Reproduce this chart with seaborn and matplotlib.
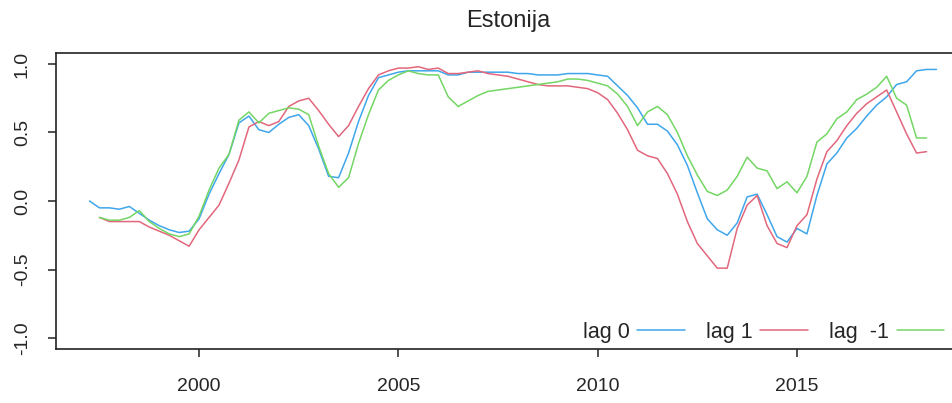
import numpy as np
import pandas as pd
import matplotlib
matplotlib.use("Agg")
import matplotlib.pyplot as plt
import seaborn as sns

# ---- data (quarterly) ----
lag0 = [0.00, -0.05, -0.05, -0.06, -0.04, -0.09, -0.14, -0.18, -0.21, -0.23, -0.22, -0.13,
        0.05, 0.20, 0.34, 0.57, 0.62, 0.52, 0.50, 0.56, 0.61, 0.63, 0.55, 0.38,
        0.18, 0.17, 0.35, 0.58, 0.77, 0.90, 0.92, 0.94, 0.95, 0.95, 0.95, 0.95,
        0.92, 0.92, 0.94, 0.94, 0.94, 0.94, 0.94, 0.93, 0.93, 0.92, 0.92, 0.92,
        0.93, 0.93, 0.93, 0.92, 0.91, 0.84, 0.77, 0.68, 0.56, 0.56, 0.51, 0.41,
        0.26, 0.06, -0.13, -0.21, -0.25, -0.16, 0.03, 0.05, -0.10, -0.26, -0.30, -0.20,
        -0.24, 0.04, 0.27, 0.35, 0.46, 0.53, 0.62, 0.70, 0.76, 0.85, 0.87, 0.95,
        0.96, 0.96]
lag1 = [-0.12, -0.15, -0.15, -0.15, -0.15, -0.19, -0.22, -0.25, -0.29, -0.33, -0.21,
        -0.12, -0.03, 0.13, 0.30, 0.54, 0.58, 0.55, 0.58, 0.69, 0.73, 0.75, 0.66,
        0.56, 0.47, 0.55, 0.69, 0.82, 0.92, 0.95, 0.97, 0.97, 0.98, 0.96, 0.97,
        0.93, 0.93, 0.94, 0.95, 0.93, 0.92, 0.91, 0.89, 0.87, 0.85, 0.84, 0.84,
        0.84, 0.83, 0.82, 0.79, 0.74, 0.64, 0.52, 0.37, 0.33, 0.31, 0.20, 0.05,
        -0.15, -0.31, -0.40, -0.49, -0.49, -0.20, -0.03, 0.04, -0.18, -0.31, -0.34, -0.18,
        -0.10, 0.16, 0.36, 0.44, 0.55, 0.64, 0.71, 0.76, 0.81, 0.65, 0.49, 0.35,
        0.36]
lagm1 = [-0.12, -0.14, -0.14, -0.12, -0.07, -0.15, -0.20, -0.24, -0.26, -0.24, -0.11,
         0.08, 0.24, 0.34, 0.59, 0.65, 0.57, 0.64, 0.66, 0.68, 0.67, 0.63, 0.40,
         0.20, 0.10, 0.17, 0.42, 0.63, 0.81, 0.88, 0.92, 0.95, 0.93, 0.92, 0.92,
         0.76, 0.69, 0.73, 0.77, 0.80, 0.81, 0.82, 0.83, 0.84, 0.85, 0.86, 0.87,
         0.89, 0.89, 0.88, 0.86, 0.84, 0.78, 0.69, 0.55, 0.65, 0.69, 0.63, 0.50,
         0.33, 0.19, 0.07, 0.04, 0.08, 0.18, 0.32, 0.24, 0.22, 0.09, 0.14, 0.06,
         0.18, 0.43, 0.49, 0.60, 0.65, 0.74, 0.78, 0.83, 0.91, 0.75, 0.70, 0.46,
         0.46]
labels = ["lag 0", "lag 1", "lag  -1"]
colors = ["#3FA6EC", "#E2677C", "#74D664"]
title = "Estonija"
xticks = [2000, 2005, 2010, 2015]
yticks = [-1.0, -0.5, 0.0, 0.5, 1.0]

t0 = 1997.25 + 0.25 * np.arange(len(lag0))
t1 = 1997.5 + 0.25 * np.arange(len(lag1))
tm1 = 1997.5 + 0.25 * np.arange(len(lagm1))

df = pd.concat([
    pd.DataFrame({"time": t0, "value": lag0, "series": labels[0]}),
    pd.DataFrame({"time": t1, "value": lag1, "series": labels[1]}),
    pd.DataFrame({"time": tm1, "value": lagm1, "series": labels[2]}),
])

sns.set_style("ticks")
plt.rcParams["font.family"] = ["Liberation Sans", "DejaVu Sans"]

W, H = 952, 403
fig = plt.figure(figsize=(W / 100, H / 100), dpi=100)
left, right, top, bottom = 56, 960, 53, 349
ax = fig.add_axes([left / W, 1 - bottom / H, (right - left) / W, (bottom - top) / H])

sns.lineplot(data=df, x="time", y="value", hue="series", hue_order=labels,
             palette=colors, linewidth=1.1, ax=ax, legend=False, estimator=None)

ax.set_xlim(1996.41, 2019.09)
ax.set_ylim(-1.08, 1.08)
ax.set_xticks(xticks)
ax.set_xticklabels([str(x) for x in xticks])
ax.set_yticks(yticks)
ax.set_yticklabels([f"{v:.1f}" for v in yticks], rotation=90, va="center")
ax.set_xlabel("")
ax.set_ylabel("")
for s in ax.spines.values():
    s.set_visible(True)
    s.set_linewidth(1.2)
    s.set_color("#222222")
ax.tick_params(axis="both", length=6, width=1.1, color="#222222", labelsize=14)
ax.tick_params(axis="x", pad=15)
ax.tick_params(axis="y", pad=12)

ax.set_title(title, fontsize=17, pad=19)

handles = [plt.Line2D([], [], color=c, linewidth=1.1) for c in colors]
ax.legend(handles, labels, ncol=3, markerfirst=False, frameon=False,
          fontsize=15.5, handlelength=2.2, handletextpad=0.35, columnspacing=1.0,
          loc="lower right", bbox_to_anchor=(944 / W, 1 - 343 / H),
          bbox_transform=fig.transFigure, borderaxespad=0, borderpad=0)

fig.savefig("out.png", dpi=100)
